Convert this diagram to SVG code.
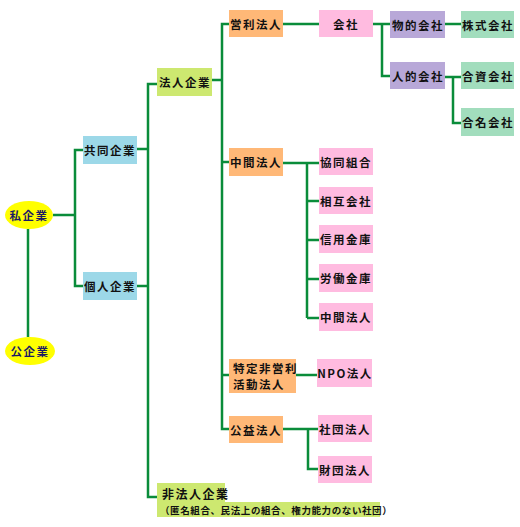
<svg xmlns="http://www.w3.org/2000/svg" width="520" height="527" viewBox="0 0 520 527">
<style>
text{font-family:"Noto Sans CJK JP","Noto Sans",sans-serif;font-size:11.5px;font-weight:bold;fill:#111;letter-spacing:1.5px;dominant-baseline:central}
.c{text-anchor:middle}
.e text{fill:#1a1a66}
.ln{fill:none;stroke:#0a8c3a;stroke-width:2.5}
.or{fill:#FFB877}.pk{fill:#FFBBE0}.pu{fill:#B8A8D8}.mt{fill:#A2DDBD}.bl{fill:#9CD8E8}.lm{fill:#CDE870}.ye{fill:#FFFF00}
</style>
<g id="connectors" class="ln">
<path d="M28 229V337"/>
<path d="M53 215H75M83 150H75V286H83"/>
<path d="M137 149H148M137 286H148M157 84H148V497H157"/>
<path d="M212 80H222M229 24H222V429H229M222 162H229M222 375H229"/>
<path d="M283 24H319"/>
<path d="M373 24H382M390 24H382V76H390"/>
<path d="M445 24H461"/>
<path d="M445 77H453M461 77H453V123H461"/>
<path d="M283 163H319M307 163V318M307 201H319M307 240H319M307 279H319M307 318H319"/>
<path d="M296 375H317"/>
<path d="M283 429H318M308 429V469H318"/>
</g>
<g id="shikigyo" class="e"><ellipse class="ye" cx="29" cy="215" rx="24" ry="14"/><text class="c" x="29" y="215">私企業</text></g>
<g id="kokigyo" class="e"><ellipse class="ye" cx="30" cy="351" rx="25" ry="14"/><text class="c" x="30" y="351">公企業</text></g>
<g id="kyodo"><rect class="bl" x="83" y="136" width="54" height="28"/><text class="c" x="110" y="150">共同企業</text></g>
<g id="kojin"><rect class="bl" x="83" y="272" width="54" height="28"/><text class="c" x="110" y="286">個人企業</text></g>
<g id="hojin"><rect class="lm" x="157" y="68" width="55" height="28"/><text class="c" x="185" y="82">法人企業</text></g>
<g id="hihojin"><rect class="lm" x="157" y="483" width="68" height="20"/><rect class="lm" x="157" y="502" width="223" height="15"/><text x="162" y="493" style="font-size:12px">非法人企業</text><text x="160" y="510" style="font-size:9.5px;letter-spacing:0.6px">（匿名組合、民法上の組合、権力能力のない社団）</text></g>
<g id="eiri"><rect class="or" x="229" y="10" width="54" height="27"/><text class="c" x="256" y="23.5">営利法人</text></g>
<g id="chukan"><rect class="or" x="229" y="148" width="54" height="28"/><text class="c" x="256" y="162">中間法人</text></g>
<g id="tokutei"><rect class="or" x="229" y="359" width="67" height="34"/><text x="233" y="368">特定非営利</text><text x="233" y="384">活動法人</text></g>
<g id="koeki"><rect class="or" x="229" y="416" width="54" height="27"/><text class="c" x="256" y="429.5">公益法人</text></g>
<g id="kaisha"><rect class="pk" x="319" y="10" width="54" height="27"/><text class="c" x="346" y="23.5">会社</text></g>
<g id="butteki"><rect class="pu" x="390" y="11" width="55" height="27"/><text class="c" x="418" y="24.5">物的会社</text></g>
<g id="jinteki"><rect class="pu" x="390" y="62" width="55" height="27"/><text class="c" x="418" y="75.5">人的会社</text></g>
<g id="kabushiki"><rect class="mt" x="461" y="11" width="53" height="27"/><text class="c" x="488" y="24.5">株式会社</text></g>
<g id="goshi"><rect class="mt" x="461" y="62" width="53" height="27"/><text class="c" x="488" y="75.5">合資会社</text></g>
<g id="gomei"><rect class="mt" x="461" y="108" width="53" height="28"/><text class="c" x="488" y="122">合名会社</text></g>
<g id="kyodokumiai"><rect class="pk" x="319" y="148" width="54" height="27"/><text class="c" x="346" y="161.5">協同組合</text></g>
<g id="sogo"><rect class="pk" x="319" y="187" width="54" height="27"/><text class="c" x="346" y="200.5">相互会社</text></g>
<g id="shinyo"><rect class="pk" x="319" y="225" width="54" height="28"/><text class="c" x="346" y="239">信用金庫</text></g>
<g id="rodo"><rect class="pk" x="319" y="264" width="54" height="28"/><text class="c" x="346" y="278">労働金庫</text></g>
<g id="chukan2"><rect class="pk" x="319" y="303" width="54" height="28"/><text class="c" x="346" y="317">中間法人</text></g>
<g id="npo"><rect class="pk" x="317" y="359" width="55" height="28"/><text class="c" x="345" y="373">NPO法人</text></g>
<g id="shadan"><rect class="pk" x="318" y="415" width="54" height="27"/><text class="c" x="345" y="428.5">社団法人</text></g>
<g id="zaidan"><rect class="pk" x="318" y="456" width="54" height="27"/><text class="c" x="345" y="469.5">財団法人</text></g>
</svg>
